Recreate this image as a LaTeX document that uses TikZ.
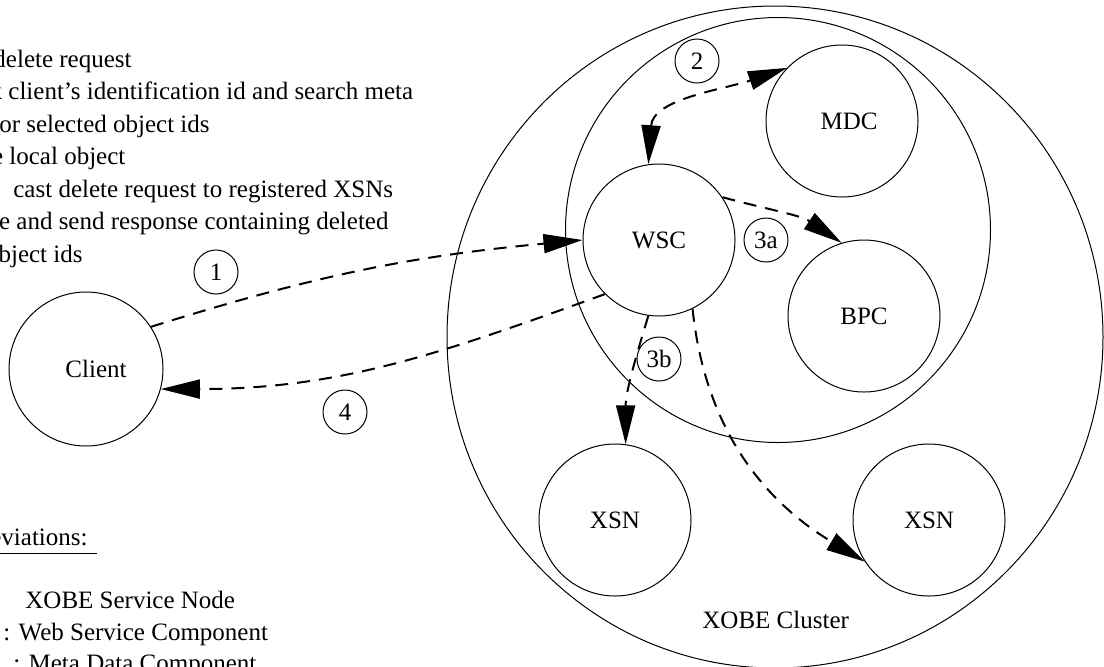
\documentclass[tikz,border=0pt]{standalone}
\usepackage{fontspec}
\setmainfont{Liberation Serif}
\usetikzlibrary{arrows.meta,shapes.geometric}
\begin{document}
\begin{tikzpicture}[x=0.5pt,y=-0.5pt,
  font=\fontsize{12.5}{15}\selectfont,
  comp/.style={draw, circle, line width=0.5pt, minimum size=76pt, inner sep=0pt},
  tag/.style={draw, circle, line width=0.5pt, minimum size=22pt, inner sep=0pt},
  region/.style={draw, ellipse, line width=0.5pt, inner sep=0pt},
  dashflow/.style={line width=1pt, dash pattern=on 6.5pt off 4.5pt},
  flow/.style={dashflow, -{Triangle[length=19.5pt,width=9.5pt]}},
  both/.style={dashflow, {Triangle[length=19.5pt,width=9.5pt]}-{Triangle[length=19.5pt,width=9.5pt]}},
  txtE/.style={inner sep=0pt, anchor=base east},
  txtW/.style={inner sep=0pt, anchor=base west},
]
\useasboundingbox (0,0) rectangle (1104,666);
\clip (0,0) rectangle (1104,666);

% cluster regions
\node[region, minimum width=328pt, minimum height=331pt] (cluster) at (775,337) {};
\node[region, minimum width=212.5pt, minimum height=212.5pt] (core) at (778,230) {};
\node[txtW] (clustername) at (702,628) {XOBE Cluster};

% components
\node[comp, minimum size=77pt] (client) at (86,369) {\hspace{10pt}Client};
\node[comp] (wsc) at (659,240) {WSC};
\node[comp] (mdc) at (842,121) {\hspace{7pt}MDC};
\node[comp] (bpc) at (864,316) {BPC};
\node[comp] (xsnA) at (615,520) {XSN};
\node[comp] (xsnB) at (929,520) {XSN};

% step numbers
\node[tag] (t1) at (216,272) {1};
\node[tag] (t2) at (697,61) {2};
\node[tag] (t3a) at (766,240) {3a};
\node[tag] (t3b) at (659,359) {3b};
\node[tag] (t4) at (345,412) {4};

% message flows
\draw[flow] (client.33) to[bend left=6] (wsc.west);
\draw[both] (wsc.98) to[out=86,in=199] (mdc.136);
\draw[flow] (wsc.34) to[out=-15,in=146] (bpc.107);
\draw[flow] (wsc.262) to[out=253,in=90] (xsnA.82);
\draw[flow] (wsc.296) to[out=-84,in=149] (xsnB.213);
\draw[flow] (wsc.225) to[out=200,in=0] (client.-15);

% step descriptions
\node[txtE] (s1) at (132,67) {1: Send delete request};
\node[txtW] (s2) at (8,99) {\llap{2: Check\ }client's identification id and search meta};
\node[txtE] (s2b) at (210,132) {data for selected object ids};
\node[txtW] (s3a) at (9,164) {\llap{3a: Delete\ }local object};
\node[txtW] (s3b) at (13,197) {cast delete request to registered XSNs};
\node[txtW] (s4) at (16,229) {\llap{4: Combine\ }and send response containing deleted};
\node[txtE] (s4b) at (83,262) {object ids};

% abbreviations
\node[txtE] (abbr) at (88,545) {Abbreviations:};
\coordinate (ulA) at (-70,553);
\coordinate (ulB) at (97,553);
\draw[line width=0.5pt] (ulA) -- (ulB);
\node[txtW] (ab1) at (25,608) {XOBE Service Node};
\node[txtW] (ab2) at (3,640) {\llap{WSC\hspace{6pt}}: Web Service Component};
\node[txtW] (ab3) at (13,671) {\llap{MDC\hspace{6pt}}: Meta Data Component};
\end{tikzpicture}
\end{document}
